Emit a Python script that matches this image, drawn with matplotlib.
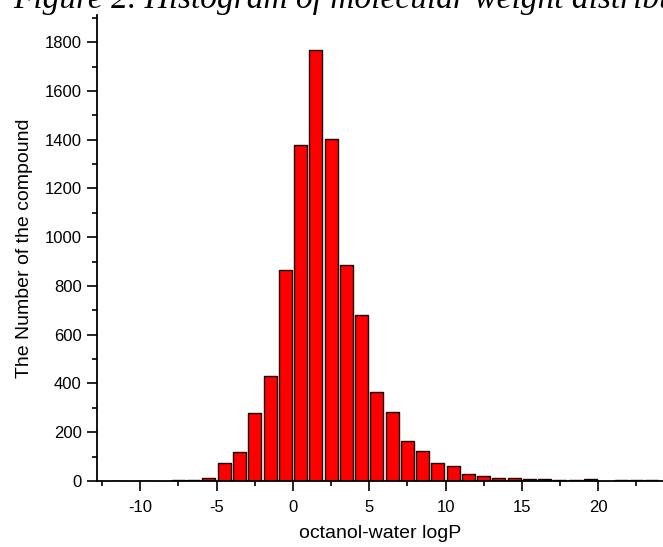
import numpy as np
import matplotlib.pyplot as plt
from matplotlib.ticker import MultipleLocator

# left edge of each logP bin (width 1) and its count
bin_start = [-12, -10, -8, -7, -6, -5, -4, -3, -2, -1, 0, 1, 2, 3, 4, 5, 6, 7, 8, 9,
             10, 11, 12, 13, 14, 15, 16, 17, 18, 19, 21, 22, 23]
counts = [1, 1, 4, 4, 14, 72, 120, 278, 432, 866, 1380, 1770, 1404, 888, 682, 366,
          283, 163, 125, 72, 60, 27, 20, 14, 14, 10, 10, 5, 5, 8, 3, 2, 2]

plt.rcParams['font.family'] = ['Liberation Sans', 'DejaVu Sans']
plt.rcParams['axes.unicode_minus'] = False

fig = plt.figure(figsize=(6.63, 5.47), dpi=100)
ax = fig.add_axes([0.146, 0.1207, 0.854, 0.852])

centers = np.array(bin_start) + 0.5
ax.bar(centers, counts, width=0.85, color='#ff0000', edgecolor='#1a0000', linewidth=1.0)

ax.set_xlim(-12.85, 24.25)
ax.set_ylim(0, 1912)
ax.spines['top'].set_visible(False)
ax.spines['right'].set_visible(False)
ax.spines['left'].set_linewidth(1.3)
ax.spines['bottom'].set_linewidth(1.3)

ax.xaxis.set_major_locator(MultipleLocator(5))
ax.xaxis.set_minor_locator(MultipleLocator(2.5))
ax.yaxis.set_major_locator(MultipleLocator(200))
ax.yaxis.set_minor_locator(MultipleLocator(100))
ax.tick_params(which='major', direction='out', length=7, width=1.2, labelsize=12, pad=4)
ax.tick_params(axis='x', which='major', pad=7)
ax.tick_params(which='minor', direction='out', length=3.8, width=1.2)

ax.set_xlabel('octanol-water logP', fontsize=14, labelpad=7)
ax.set_ylabel('The Number of the compound', fontsize=14, labelpad=8)

# title sits mostly above the top edge, as in the source image
fig.text(0.02, 1 - 8 / 547, 'Figure 2. Histogram of molecular weight distribution',
         fontsize=24, family='Liberation Serif', style='italic', va='baseline', ha='left')

fig.savefig('out.png', dpi=100)
